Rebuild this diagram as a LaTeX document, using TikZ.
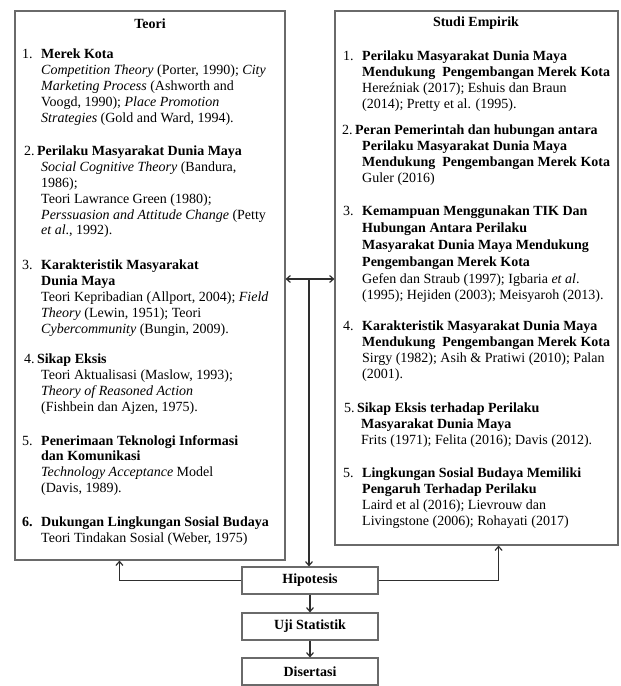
\documentclass[tikz,border=0pt]{standalone}
\usepackage{fontspec}
\setmainfont{Liberation Serif}
\usepackage{xcolor}
\usepackage{tikz}
\usetikzlibrary{arrows.meta}
\definecolor{gray3}{HTML}{2e2e2e}
\definecolor{frame}{HTML}{6a6a6a}

% hanging indent of the list items
\newcommand{\nr}[1]{\makebox[19pt][l]{#1}}
\newcommand{\ind}{\hspace*{19pt}}

\begin{document}
\begin{tikzpicture}[x=1pt, y=-1pt,
    panel/.style={draw=frame, line width=1.1pt, fill=white, inner sep=0pt},
    stepbox/.style={panel, minimum width=136pt, minimum height=27pt,
      font=\fontsize{14}{15}\selectfont\bfseries},
    item/.style={anchor=north west, align=left, inner sep=0pt,
      font=\fontsize{14}{15.8}\selectfont},
    link/.style={gray3, line width=1.2pt, -{Straight Barb[length=4pt,width=7pt]}}]
    \useasboundingbox (0,0) rectangle (621,686);

    % Left box - theories
    \node[panel, minimum width=270pt, minimum height=549pt] (teori) at (150,285.5) {};
    \node[font=\fontsize{14}{15}\selectfont\bfseries] (teorihead) at (150,24) {Teori};
    \node[item] (t1) at (22,49) {\nr{1.}\textbf{Merek Kota}\\
      \ind\textit{Competition Theory} (Porter, 1990); \textit{City}\\
      \ind\textit{Marketing Process} (Ashworth and\\
      \ind Voogd, 1990); \textit{Place Promotion}\\
      \ind\textit{Strategies} (Gold and Ward, 1994).};
    \node[item] (t2) at (24,146) {2.\,\textbf{Perilaku Masyarakat Dunia Maya}\\
      \hspace*{17pt}\textit{Social Cognitive Theory} (Bandura,\\
      \hspace*{17pt}1986);\\
      \hspace*{17pt}Teori Lawrance Green (1980);\\
      \hspace*{17pt}\textit{Perssuasion and Attitude Change} (Petty\\
      \hspace*{17pt}\textit{et al}., 1992).};
    \node[item] (t3) at (22,260) {\nr{3.}\textbf{Karakteristik Masyarakat}\\
      \ind\textbf{Dunia Maya}\\
      \ind Teori Kepribadian (Allport, 2004); \textit{Field}\\
      \ind\textit{Theory} (Lewin, 1951); Teori\\
      \ind\textit{Cybercommunity} (Bungin, 2009).};
    \node[item] (t4) at (24,354) {4.\,\textbf{Sikap Eksis}\\
      \hspace*{17pt}Teori Aktualisasi (Maslow, 1993);\\
      \hspace*{17pt}\textit{Theory of Reasoned Action}\\
      \hspace*{17pt}(Fishbein dan Ajzen, 1975).};
    \node[item] (t5) at (22,435) {\nr{5.}\textbf{Penerimaan Teknologi Informasi}\\
      \ind\textbf{dan Komunikasi}\\
      \ind\textit{Technology Acceptance} Model\\
      \ind(Davis, 1989).};
    \node[item] (t6) at (22,517) {\nr{\textbf{6.}}\textbf{Dukungan Lingkungan Sosial Budaya}\\
      \ind Teori Tindakan Sosial (Weber, 1975)};

    % Right box - empirical studies
    \node[panel, minimum width=283pt, minimum height=534pt] (empirik) at (476.5,278) {};
    \node[font=\fontsize{14}{15}\selectfont\bfseries] (empirikhead) at (476,23) {Studi Empirik};
    \node[item] (e1) at (343,51) {\nr{1.}\textbf{Perilaku Masyarakat Dunia Maya}\\
      \ind\textbf{Mendukung\ \ Pengembangan Merek Kota}\\
      \ind Hereźniak (2017); Eshuis dan Braun\\
      \ind(2014); Pretty et al. (1995).};
    \node[item] (e2) at (342,125) {2.\,\textbf{Peran Pemerintah dan hubungan antara}\\
      \hspace*{20pt}\textbf{Perilaku Masyarakat Dunia Maya}\\
      \hspace*{20pt}\textbf{Mendukung\ \ Pengembangan Merek Kota}\\
      \hspace*{20pt}Guler (2016)};
    \node[item, font=\fontsize{14}{16.8}\selectfont] (e3) at (343,206) {\nr{3.}\textbf{Kemampuan Menggunakan TIK Dan}\\
      \ind\textbf{Hubungan Antara Perilaku}\\
      \ind\textbf{Masyarakat Dunia Maya Mendukung}\\
      \ind\textbf{Pengembangan Merek Kota}\\
      \ind Gefen dan Straub (1997); Igbaria \textit{et al}.\\
      \ind(1995); Hejiden (2003); Meisyaroh (2013).};
    \node[item] (e4) at (343,321) {\nr{4.}\textbf{Karakteristik Masyarakat Dunia Maya}\\
      \ind\textbf{Mendukung\ \ Pengembangan Merek Kota}\\
      \ind Sirgy (1982); Asih \& Pratiwi (2010); Palan\\
      \ind(2001).};
    \node[item] (e5) at (344,403) {5.\,\textbf{Sikap Eksis terhadap Perilaku}\\
      \hspace*{17pt}\textbf{Masyarakat Dunia Maya}\\
      \hspace*{17pt}Frits (1971); Felita (2016); Davis (2012).};
    \node[item] (e6) at (343,468) {\nr{5.}\textbf{Lingkungan Sosial Budaya Memiliki}\\
      \ind\textbf{Pengaruh Terhadap Perilaku}\\
      \ind Laird et al (2016); Lievrouw dan\\
      \ind Livingstone (2006); Rohayati (2017)};

    % Steps at the bottom
    \node[stepbox] (hipo) at (310,580.5) {Hipotesis};
    \node[stepbox] (uji) at (310,626.5) {Uji Statistik};
    \node[stepbox] (dis) at (310,671.5) {Disertasi};

    % Connectors
    \coordinate (mid) at (309,279);
    \draw[link, {Straight Barb[length=4pt,width=7pt]}-{Straight Barb[length=4pt,width=7pt]}]
      (teori.east |- mid) -- (empirik.west |- mid);
    \draw[link] (mid) -- (hipo.north -| mid);
    \draw[link] (hipo.west) -| ([xshift=105pt]teori.south west);
    \draw[link] (hipo.east) -| ([xshift=-120pt]empirik.south east);
    \draw[link] (hipo) -- (uji);
    \draw[link] (uji) -- (dis);
\end{tikzpicture}
\end{document}
